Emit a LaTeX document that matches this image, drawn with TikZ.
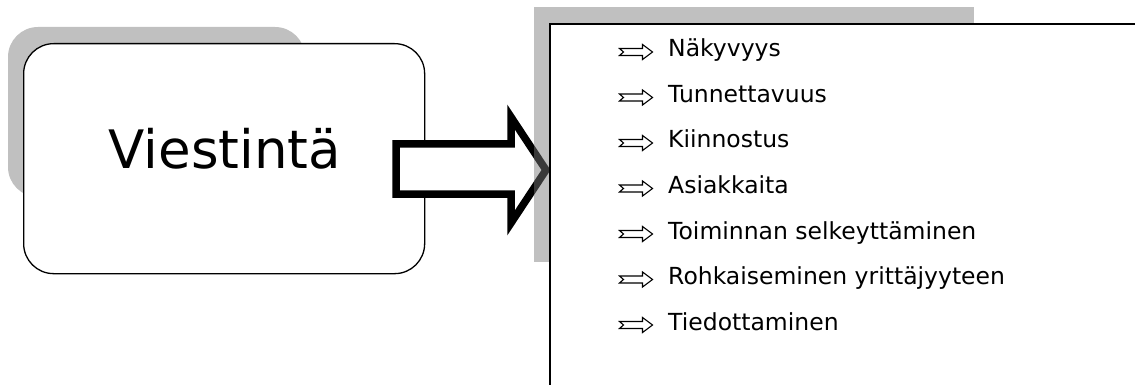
\documentclass[tikz,border=0pt]{standalone}
\usepackage{fontspec}
\setmainfont{DejaVu Sans}
\usetikzlibrary{positioning}
\definecolor{shadowgray}{RGB}{192,192,192}

% outline of the big block arrow
\newcommand{\blockarrow}{(396,144) -- (511,144) -- (511,117) -- (546,170) -- (511,223) -- (511,194) -- (396,194) -- cycle}

\begin{document}
\begin{tikzpicture}[
  x=1pt, y=-1pt,
  shade/.style={fill=shadowgray, draw=none},
  mainbox/.style={draw, fill=white, line width=1.3pt, rounded corners=30pt, inner sep=0pt},
  bigarrow/.style={draw, line width=7.5pt},
  entry/.style={anchor=base west, inner sep=0pt, font=\fontsize{23.5}{28}\selectfont},
  itemarrow/.pic={
    \draw[line width=1.1pt, fill=white] (-16,-3.5) -- (7,-3.5) -- (7,-7.5) -- (17,0)
      -- (7,7.5) -- (7,3.5) -- (-16,3.5) -- (-12,0) -- cycle;
  }
]
  \useasboundingbox (0,0) rectangle (1135,385);

  % left box with its shadow
  \fill[shade, rounded corners=30pt] (8,27) rectangle (305,197);
  \node[mainbox, minimum width=401, minimum height=230, anchor=north west] (viestinta) at (23,43) {};
  \node[anchor=base, inner sep=0pt, font=\fontsize{53}{60}\selectfont] (title) at (225,168) {Viestintä};

  \draw[bigarrow, fill=white] \blockarrow;

  % right box, the shadow lies over the arrow tip
  \fill[shade] (534,7) rectangle (974,262);
  \begin{scope}
    \clip (534,7) rectangle (974,262);
    \draw[bigarrow, draw opacity=.7] \blockarrow;
  \end{scope}
  \node[draw, fill=white, line width=2.2pt, inner sep=0pt, minimum width=600, minimum height=380,
    anchor=north west] (list) at (549,23) {};

  \foreach \txt [count=\i] in {Näkyvyys, Tunnettavuus, Kiinnostus, Asiakkaita,
      Toiminnan selkeyttäminen, Rohkaiseminen yrittäjyyteen, Tiedottaminen} {
    \node[entry] (item\i) at (668, 11.5+45.5*\i) {\txt};
    \pic at ([xshift=-32.5pt, yshift=5pt]item\i.base west) {itemarrow};
  }
\end{tikzpicture}
\end{document}
